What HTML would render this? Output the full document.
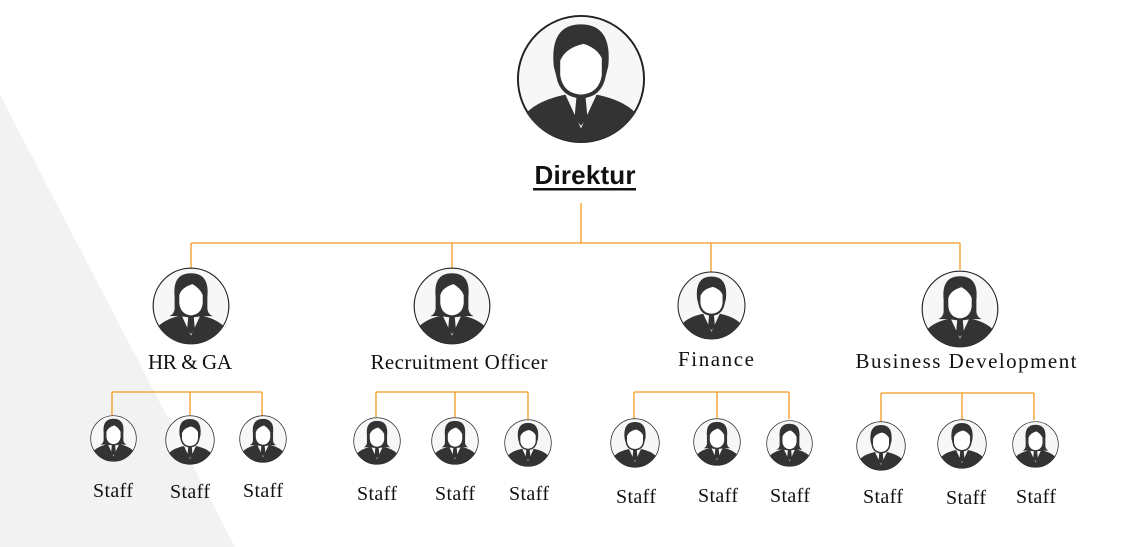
<!DOCTYPE html>
<html><head><meta charset="utf-8"><style>
html,body{margin:0;padding:0;background:#fff;width:1148px;height:547px;overflow:hidden}
svg{display:block}
.t{font-family:"Liberation Serif",serif;font-size:21px;fill:#111;text-anchor:middle}
.s{font-family:"Liberation Serif",serif;font-size:20px;fill:#111;text-anchor:middle}
</style></head><body>
<svg width="1148" height="547" viewBox="0 0 1148 547">
<defs>
<symbol id="m" viewBox="-50 -50 100 100">
<circle r="48.5" fill="#f7f7f7" stroke="#222" stroke-width="1.5"/>
<path d="M-42 26 Q-32 16 -12 12 L0 38 L12 12 Q32 16 42 26 Q27 48 0 48.5 Q-27 48 -42 26Z" fill="#333"/>
<path d="M-3.5 14 L3.5 14 L5 30 L0 36 L-5 30Z" fill="#333"/>
<path d="M-21 -10 Q-24 -42 0 -42 Q24 -42 21 -10 L19 -2 Q16 14 0 15 Q-16 14 -19 -2Z" fill="#333"/>
<path d="M-16 -14 Q-12 -24 2 -27 Q12 -24 16 -16 L16 -3 Q14 11 0 12 Q-14 11 -16 -3Z" fill="#fff"/>
</symbol>
<symbol id="f" viewBox="-50 -50 100 100">
<circle r="48.5" fill="#f7f7f7" stroke="#222" stroke-width="1.5"/>
<path d="M-42 26 Q-32 16 -12 12 L0 38 L12 12 Q32 16 42 26 Q27 48 0 48.5 Q-27 48 -42 26Z" fill="#333"/>
<path d="M-3.5 14 L3.5 14 L5 30 L0 36 L-5 30Z" fill="#333"/>
<path d="M-21 -12 Q-24 -42 0 -42 Q24 -42 21 -12 L21 4 Q22 11 28 13 L14 13 L0 15 L-14 13 L-28 13 Q-22 11 -21 4Z" fill="#333"/>
<path d="M-15 -14 Q-12 -24 2 -28 Q12 -22 15 -14 L15 -3 Q13 11 0 12 Q-13 11 -15 -3Z" fill="#fff"/>
</symbol>
</defs>
<polygon points="0,95 235,547 0,547" fill="#f2f2f2"/>
<g stroke="#f39a1e" stroke-width="1.3" fill="none">
<path d="M581 203V243M191 243H960M191 243V270M452 243V270M711 243V272M960 243V270"/>
<path d="M112 392H262M112 392V415M190 392V415M262 392V416"/>
<path d="M376 392H528M376 392V417M455 392V417M528 392V419"/>
<path d="M634 392H789M634 392V419M717 392V418M789 392V419"/>
<path d="M881 393H1034M881 393V422M962 393V420M1034 393V420"/>
</g>
<use href="#m" x="516" y="14" width="130" height="130"/>
<text x="585" y="184" font-family="Liberation Sans,sans-serif" font-weight="bold" font-size="26" text-anchor="middle" fill="#111" textLength="101">Direktur</text>
<rect x="533" y="188" width="103" height="2.5" fill="#111"/>
<use href="#f" x="152" y="267" width="78" height="78"/>
<use href="#f" x="413" y="267" width="78" height="78"/>
<use href="#m" x="677" y="271" width="69" height="69"/>
<use href="#f" x="921" y="270" width="78" height="78"/>
<text class="t" x="190" y="369" textLength="84">HR &amp; GA</text>
<text class="t" x="459" y="369" textLength="177">Recruitment Officer</text>
<text class="t" x="716" y="366" textLength="76">Finance</text>
<text class="t" x="966" y="368" textLength="221">Business Development</text>
<use href="#f" x="90" y="415" width="47" height="47"/>
<use href="#m" x="165" y="415" width="50" height="50"/>
<use href="#f" x="239" y="415" width="48" height="48"/>
<use href="#f" x="353" y="417" width="48" height="48"/>
<use href="#f" x="431" y="417" width="48" height="48"/>
<use href="#m" x="504" y="419" width="48" height="48"/>
<use href="#m" x="610" y="418" width="50" height="50"/>
<use href="#f" x="693" y="418" width="48" height="48"/>
<use href="#f" x="766" y="420" width="47" height="47"/>
<use href="#m" x="856" y="421" width="50" height="50"/>
<use href="#m" x="937" y="419" width="50" height="50"/>
<use href="#f" x="1012" y="421" width="47" height="47"/>
<text class="s" x="113" y="497" textLength="40">Staff</text><text class="s" x="190" y="498" textLength="40">Staff</text><text class="s" x="263" y="497" textLength="40">Staff</text>
<text class="s" x="377" y="500" textLength="40">Staff</text><text class="s" x="455" y="500" textLength="40">Staff</text><text class="s" x="529" y="500" textLength="40">Staff</text>
<text class="s" x="636" y="503" textLength="40">Staff</text><text class="s" x="718" y="502" textLength="40">Staff</text><text class="s" x="790" y="502" textLength="40">Staff</text>
<text class="s" x="883" y="503" textLength="40">Staff</text><text class="s" x="966" y="504" textLength="40">Staff</text><text class="s" x="1036" y="503" textLength="40">Staff</text>
</svg>
</body></html>
